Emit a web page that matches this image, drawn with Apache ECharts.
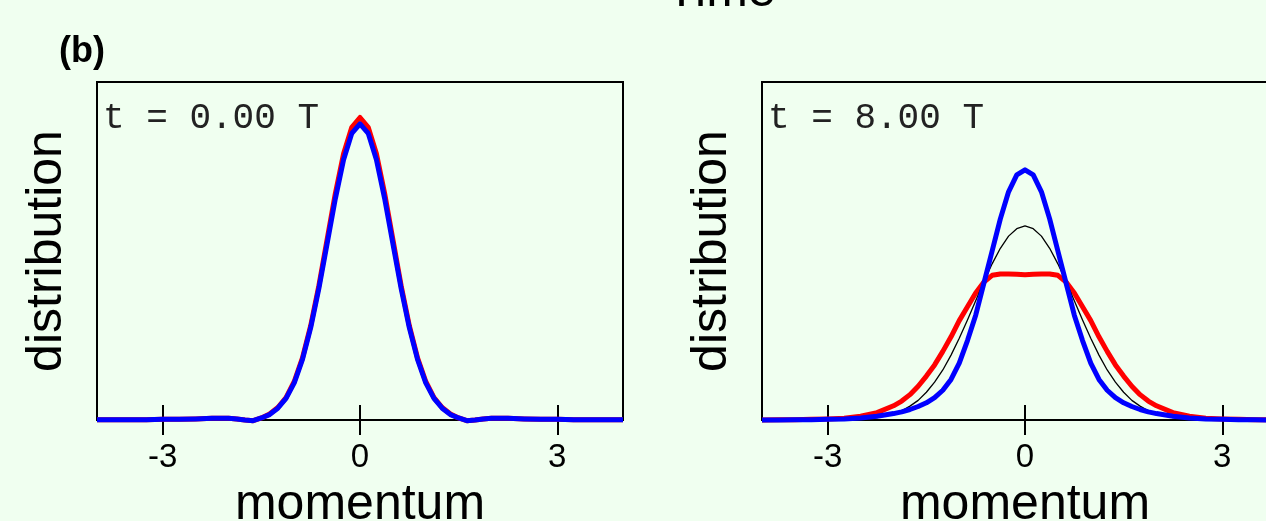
<!DOCTYPE html>
<html>
<head>
<meta charset="utf-8">
<script src="https://cdn.jsdelivr.net/npm/echarts@6/dist/echarts.min.js"></script>
<style>
html,body{margin:0;padding:0;background:#f0fff0;}
#chart{width:1266px;height:521px;}
</style>
</head>
<body>
<div id="chart"></div>
<script>
// ---- data ----
const momentum = [-4,-3.75,-3.5,-3.25,-3,-2.75,-2.5,-2.25,-2,-1.875,-1.75,-1.625,-1.5,-1.375,-1.25,-1.125,-1,-0.875,-0.75,-0.625,-0.5,-0.375,-0.25,-0.125,0,0.125,0.25,0.375,0.5,0.625,0.75,0.875,1,1.125,1.25,1.375,1.5,1.625,1.75,1.875,2,2.25,2.5,2.75,3,3.25,3.5,3.75,4];

// panel 1: t = 0.00 T
const leftRed  = [0.001,0.001,0.001,0.001,0.002,0.002,0.003,0.005,0.005,0.003,0.000,-0.002,0.006,0.018,0.037,0.066,0.114,0.184,0.279,0.398,0.534,0.670,0.788,0.866,0.895,0.866,0.788,0.670,0.534,0.398,0.279,0.184,0.114,0.066,0.037,0.018,0.006,-0.002,0.000,0.003,0.005,0.005,0.003,0.002,0.002,0.001,0.001,0.001,0.001];
const leftBlue = [0.001,0.001,0.001,0.001,0.002,0.002,0.003,0.005,0.005,0.003,0.000,-0.002,0.006,0.016,0.035,0.064,0.110,0.179,0.273,0.390,0.522,0.655,0.770,0.848,0.876,0.848,0.770,0.655,0.522,0.390,0.273,0.179,0.110,0.064,0.035,0.016,0.006,-0.002,0.000,0.003,0.005,0.005,0.003,0.002,0.002,0.001,0.001,0.001,0.001];

// panel 2: t = 8.00 T
const rightRed   = [0.000,0.001,0.001,0.002,0.003,0.005,0.011,0.022,0.042,0.056,0.075,0.100,0.130,0.163,0.203,0.246,0.294,0.335,0.376,0.408,0.428,0.432,0.432,0.431,0.430,0.431,0.432,0.432,0.428,0.408,0.376,0.335,0.294,0.246,0.203,0.163,0.130,0.100,0.075,0.056,0.042,0.022,0.011,0.005,0.003,0.002,0.001,0.001,0.000];
const rightBlack = [0.000,0.000,0.000,0.000,0.000,0.001,0.003,0.007,0.018,0.027,0.041,0.058,0.082,0.112,0.148,0.192,0.242,0.296,0.353,0.409,0.462,0.508,0.544,0.566,0.574,0.566,0.544,0.508,0.462,0.409,0.353,0.296,0.242,0.192,0.148,0.112,0.082,0.058,0.041,0.027,0.018,0.007,0.003,0.001,0.000,0.000,0.000,0.000,0.000];
const rightBlue  = [0.000,0.000,0.001,0.001,0.002,0.003,0.006,0.011,0.019,0.024,0.031,0.040,0.051,0.066,0.088,0.120,0.168,0.235,0.310,0.405,0.500,0.595,0.675,0.725,0.740,0.725,0.675,0.595,0.500,0.405,0.310,0.235,0.168,0.120,0.088,0.066,0.051,0.040,0.031,0.024,0.019,0.011,0.006,0.003,0.002,0.001,0.001,0.000,0.000];

const xTickValues = [-3, 0, 3];
const panelLabels = ['t = 0.00 T', 't = 8.00 T'];
const xName = 'momentum';
const yName = 'distribution';
const figureTitle = 'Time';
const panelTag = '(b)';

// ---- chart ----
const pair = vals => momentum.map((m, i) => [m, vals[i]]);
const sans = 'Liberation Sans';
const grids = [{left: 97}, {left: 762}];

const xAxes = [], yAxes = [];
grids.forEach((g, i) => {
  xAxes.push({
    type: 'value', gridIndex: i, min: -4, max: 4, position: 'bottom',
    axisLine: {show: true, onZero: false, lineStyle: {color: '#000', width: 2}},
    axisTick: {show: true, inside: true, length: 15, customValues: xTickValues, lineStyle: {color: '#000', width: 2}},
    axisLabel: {show: true, customValues: xTickValues, color: '#000', fontSize: 33, fontFamily: sans, margin: 38, verticalAlign: 'middle'},
    splitLine: {show: false},
    name: xName, nameLocation: 'middle', nameGap: 85,
    nameTextStyle: {color: '#000', fontSize: 50, fontFamily: sans, verticalAlign: 'middle'}
  });
  xAxes.push({
    type: 'value', gridIndex: i, min: -4, max: 4, position: 'top',
    axisLine: {show: false},
    axisTick: {show: true, inside: true, length: 15, customValues: xTickValues, lineStyle: {color: '#000', width: 2}},
    axisLabel: {show: false},
    splitLine: {show: false}
  });
  yAxes.push({
    type: 'value', gridIndex: i, min: 0, max: 1,
    axisLine: {show: false}, axisTick: {show: false}, axisLabel: {show: false}, splitLine: {show: false},
    name: yName, nameLocation: 'middle', nameGap: 50,
    nameTextStyle: {color: '#000', fontSize: 50, fontFamily: sans, verticalAlign: 'middle'}
  });
});

function line(vals, xi, yi, color, width, z) {
  return {
    type: 'line', xAxisIndex: xi, yAxisIndex: yi, data: pair(vals),
    showSymbol: false, symbol: 'none', clip: false, z: z,
    lineStyle: {color: color, width: width, join: 'round'}, itemStyle: {color: color},
    emphasis: {disabled: true}
  };
}

const option = {
  backgroundColor: '#f0fff0',
  animation: false,
  grid: grids.map(g => ({left: g.left, top: 82, width: 526, height: 338, containLabel: false, outerBoundsMode: 'none', show: true, borderColor: '#000', borderWidth: 2, backgroundColor: 'transparent'})),
  xAxis: xAxes,
  yAxis: yAxes,
  series: [
    line(leftRed, 0, 0, '#ff0000', 5, 3),
    line(leftBlue, 0, 0, '#0000ff', 5, 5),
    line(rightRed, 2, 1, '#ff0000', 5, 3),
    line(rightBlack, 2, 1, '#000000', 1.3, 4),
    line(rightBlue, 2, 1, '#0000ff', 5, 5)
  ],
  graphic: [
    {type: 'text', x: 59, y: 52, style: {text: panelTag, fontSize: 36, fontWeight: 'bold', fontFamily: sans, fill: '#000', align: 'left', verticalAlign: 'middle'}},
    {type: 'text', x: 721, y: -8, style: {text: figureTitle, fontSize: 50, fontFamily: sans, fill: '#000', align: 'center', verticalAlign: 'middle'}},
    {type: 'text', x: 103, y: 118, style: {text: panelLabels[0], fontSize: 36, fontFamily: 'Liberation Mono', fill: '#222', align: 'left', verticalAlign: 'middle'}},
    {type: 'text', x: 768, y: 118, style: {text: panelLabels[1], fontSize: 36, fontFamily: 'Liberation Mono', fill: '#222', align: 'left', verticalAlign: 'middle'}}
  ]
};

const chart = echarts.init(document.getElementById('chart'), null, {renderer: 'canvas'});
chart.setOption(option);
</script>
</body>
</html>
